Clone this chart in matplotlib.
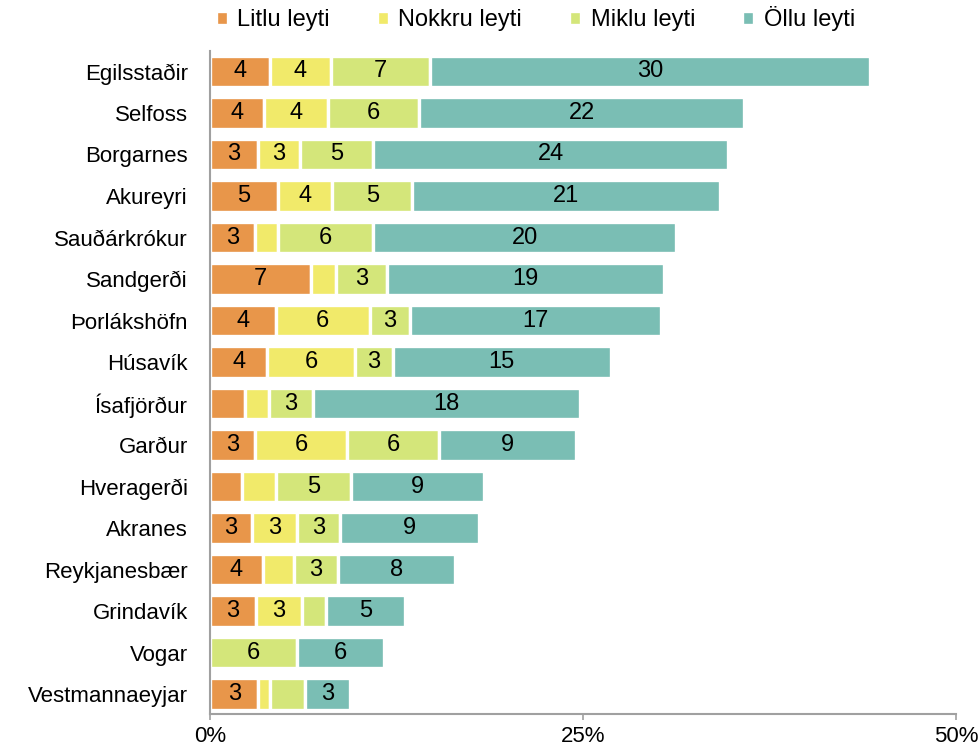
import matplotlib
matplotlib.use("Agg")
import matplotlib.pyplot as plt
import numpy as np

# --- data (percent of respondents) ---
places = [
    "Egilsstaðir", "Selfoss", "Borgarnes", "Akureyri", "Sauðárkrókur",
    "Sandgerði", "Þorlákshöfn", "Húsavík", "Ísafjörður", "Garður",
    "Hveragerði", "Akranes", "Reykjanesbær", "Grindavík", "Vogar",
    "Vestmannaeyjar",
]
litlu = [4.0, 3.6, 3.2, 4.55, 3.0, 6.75, 4.4, 3.85, 2.35, 3.0, 2.15, 2.8, 3.55, 3.05, 0.0, 3.25]
nokkru = [4.1, 4.3, 2.85, 3.65, 1.55, 1.7, 6.3, 5.85, 1.6, 6.2, 2.25, 3.0, 2.05, 3.1, 0.0, 0.8]
miklu = [6.65, 6.1, 4.9, 5.35, 6.4, 3.4, 2.7, 2.55, 2.95, 6.15, 5.05, 2.9, 3.0, 1.6, 5.85, 2.3]
ollu = [29.5, 21.8, 23.8, 20.6, 20.3, 18.6, 16.85, 14.6, 17.9, 9.2, 8.9, 9.3, 7.8, 5.35, 5.8, 3.05]

series_names = ["Litlu leyti", "Nokkru leyti", "Miklu leyti", "Öllu leyti"]
colors = ["#E8964A", "#F1EA6A", "#D4E67A", "#7ABEB4"]
x_ticks = [0, 25, 50]

plt.rcParams["font.family"] = ["Liberation Sans", "DejaVu Sans"]

fig = plt.figure(figsize=(9.79, 7.5), dpi=100)
ax = fig.add_axes([0.2145, 0.048, 0.762, 0.8844])

y = np.arange(len(places))
left = np.zeros(len(places))
for name, vals, col in zip(series_names, [litlu, nokkru, miklu, ollu], colors):
    vals = np.array(vals)
    bars = ax.barh(y, vals, left=left, height=0.76, color=col,
                   edgecolor="white", linewidth=2.4, label=name)
    # only segments that round to 3 or more carry a number
    labels = [str(int(round(v))) if round(v) >= 3 else "" for v in vals]
    ax.bar_label(bars, labels=labels, label_type="center", fontsize=17,
                 color="black")
    left += vals

ax.set_ylim(15.477, -0.5)
ax.set_xlim(0, 50)
ax.set_yticks(y)
ax.set_yticklabels(places, fontsize=16)
ax.set_xticks(x_ticks)
ax.set_xticklabels([f"{t}%" for t in x_ticks], fontsize=16)
ax.tick_params(axis="y", length=0, pad=16)
ax.tick_params(axis="x", length=4.5, width=1.2, color="#A0A0A0", pad=4)

for side in ["top", "right"]:
    ax.spines[side].set_visible(False)
for side in ["left", "bottom"]:
    ax.spines[side].set_color("#A0A0A0")
    ax.spines[side].set_linewidth(1.5)

fig.legend(loc="center", bbox_to_anchor=(0.547, 0.975), ncol=4, frameon=False,
           fontsize=17, handlelength=0.5, handleheight=0.5,
           handletextpad=0.4, columnspacing=2.0)

fig.savefig("out.png", dpi=100)
